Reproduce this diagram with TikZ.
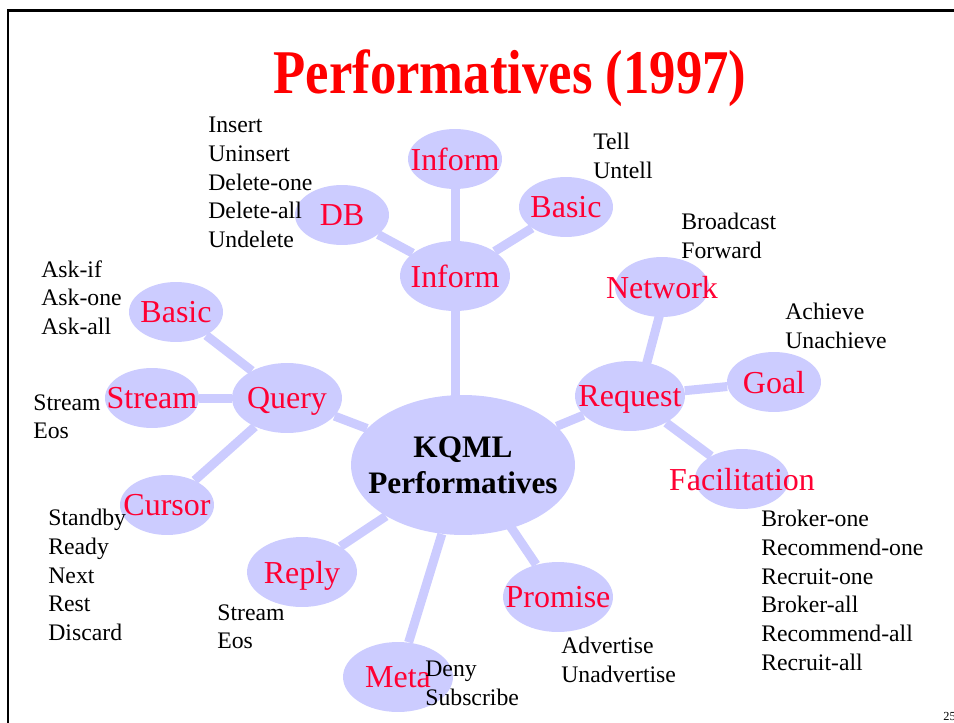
\documentclass[tikz,border=0pt]{standalone}
\usepackage{fontspec}
\usepackage{graphicx}
\setmainfont{Liberation Serif}
\usetikzlibrary{shapes.geometric,backgrounds}

\definecolor{bubblefill}{RGB}{204,204,255}
\definecolor{labelred}{RGB}{255,0,51}

\tikzset{
  bubble/.style={ellipse, fill=bubblefill, inner sep=0pt, minimum width=2.2cm, minimum height=1.4cm,
    label={[text=labelred, text depth=0pt, font=\fontsize{18.2}{20}\selectfont]center:#1}},
  smallbubble/.style={bubble=#1, minimum width=1.88cm, minimum height=1.2cm},
  items/.style={anchor=north west, align=left, inner sep=0pt, font=\fontsize{13.5}{16.3}\selectfont},
  link/.style={draw=bubblefill, line width=0.18cm}
}

\begin{document}
\begin{tikzpicture}[x=0.02cm, y=-0.02cm] % 1 unit = 1 pixel of the slide
\useasboundingbox (0,0) rectangle (954,723);
\draw [line width=1.7pt] (8,730) -- (8,10.5) -- (960,10.5); % slide frame
\node [anchor=base, inner sep=0pt, text=red, font=\fontsize{30}{36}\selectfont\bfseries] (title) at (510,94) {\scalebox{1}[1.18]{Performatives (1997)}};

\node [ellipse, fill=bubblefill, minimum width=4.48cm, minimum height=2.8cm,
  label={[align=center, font=\fontsize{17.8}{20.4}\selectfont\bfseries]center:KQML\\Performatives}] (kqml) at (463,465) {};

\node [bubble=Inform] (inform) at (455,276) {};
\node [smallbubble=Inform] (informtop) at (455,159) {};
\node [smallbubble=DB] (db) at (342,215) {};
\node [smallbubble=Basic] (tellbasic) at (566,207) {};
\node [smallbubble=Network] (network) at (662,287) {};
\node [bubble=Request] (request) at (630,396) {};
\node [smallbubble=Goal] (goal) at (774,382) {};
\node [smallbubble=Facilitation] (facilitation) at (742,479) {};
\node [bubble=Promise] (promise) at (558,597) {};
\node [bubble=Meta] (meta) at (398,677) {};
\node [bubble=Reply] (reply) at (302,572) {};
\node [bubble=Query] (query) at (287,398) {};
\node [smallbubble=Basic] (askbasic) at (176,312) {};
\node [smallbubble=Stream] (stream) at (152,398) {};
\node [smallbubble=Cursor] (cursor) at (167,505) {}; % bubbles, labels sit at their centres

\begin{scope}[on background layer]
\draw [link] (inform.center) -- (inform.center |- kqml.center);
\draw [link] (inform) -- (informtop);
\draw [link] (inform) -- (db);
\draw [link] (inform) -- (tellbasic);
\draw [link] (kqml) -- (request);
\draw [link] ([xshift=0.16cm]request.center) -- ([xshift=0.1cm]network.center);
\draw [link] (request) -- (goal);
\draw [link] (request) -- (facilitation);
\draw [link] ([xshift=0.12cm]kqml.center) -- (promise);
\draw [link] (kqml) -- (meta);
\draw [link] (kqml) -- (reply);
\draw [link] (kqml) -- (query);
\draw [link] (query) -- (askbasic);
\draw [link] (query) -- (stream);
\draw [link] (query) -- (cursor);
\end{scope}

\node [items] (dbops) at (208,117) {Insert\\Uninsert\\Delete-one\\Delete-all\\Undelete};
\node [items] (tellops) at (593,133) {Tell\\Untell};
\node [items] (netops) at (681,213) {Broadcast\\Forward};
\node [items] (goalops) at (785,303) {Achieve\\Unachieve};
\node [items] (askops) at (41,260) {Ask-if\\Ask-one\\Ask-all};
\node [items] (streamops) at (33,394) {Stream\\Eos};
\node [items] (cursorops) at (48,509) {Standby\\Ready\\Next\\Rest\\Discard};
\node [items] (replyops) at (217,604) {Stream\\Eos};
\node [items] (metaops) at (425,661) {Deny\\Subscribe};
\node [items] (promiseops) at (561,637) {Advertise\\Unadvertise};
\node [items] (facilops) at (761,510) {Broker-one\\Recommend-one\\Recruit-one\\Broker-all\\Recommend-all\\Recruit-all};
\node [anchor=base west, inner sep=0pt, font=\fontsize{7}{8}\selectfont] (pageno) at (943,720) {25};
\end{tikzpicture}
\end{document}
